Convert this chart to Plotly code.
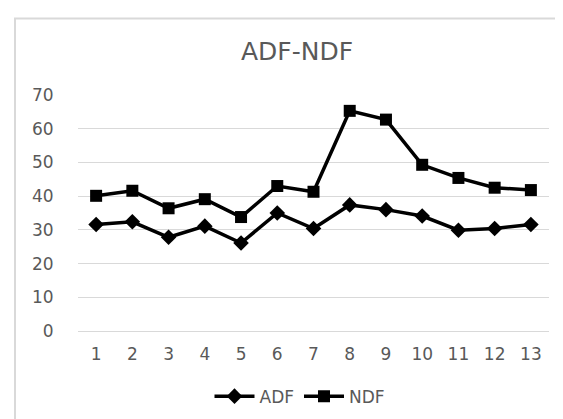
import plotly.graph_objects as go

categories = [1, 2, 3, 4, 5, 6, 7, 8, 9, 10, 11, 12, 13]
adf = [31.6, 32.4, 27.8, 31.1, 26.1, 35.0, 30.4, 37.4, 36.0, 34.1, 29.9, 30.4, 31.6]
ndf = [40.1, 41.6, 36.4, 39.1, 33.8, 43.0, 41.3, 65.3, 62.7, 49.3, 45.4, 42.5, 41.8]
y_ticks = [0, 10, 20, 30, 40, 50, 60, 70]

W, H = 563, 419
L, R, T, B = 70, 22, 87, 91
pw, ph = W - L - R, H - T - B

fig = go.Figure()
fig.add_trace(go.Scatter(x=categories, y=adf, name="ADF", mode="lines+markers",
                         line=dict(color="black", width=3.5),
                         marker=dict(symbol="diamond", size=12, color="black")))
fig.add_trace(go.Scatter(x=categories, y=ndf, name="NDF", mode="lines+markers",
                         line=dict(color="black", width=3.5),
                         marker=dict(symbol="square", size=12, color="black")))

fig.update_layout(
    width=W, height=H,
    margin=dict(l=L, r=R, t=T, b=B),
    paper_bgcolor="white", plot_bgcolor="white",
    font=dict(family="DejaVu Sans", color="#595959", size=17),
    title=dict(text="ADF-NDF", x=(289 - L) / pw, xref="paper", xanchor="center",
               y=1 - 43 / H, yref="container", yanchor="middle",
               font=dict(size=25, color="#595959", family="DejaVu Sans")),
    showlegend=True,
    legend=dict(orientation="h", x=(292 - L) / pw, xanchor="center",
                y=(H - 395 - B) / ph, yanchor="middle",
                font=dict(size=17, color="#595959"), itemwidth=40),
    xaxis=dict(range=[0.5, 13.5], tickmode="array", tickvals=categories,
               ticktext=[str(c) for c in categories], showgrid=False, zeroline=False,
               showline=False, ticks="outside", ticklen=8, tickcolor="rgba(0,0,0,0)"),
    yaxis=dict(range=[0, 70], tickmode="array", tickvals=y_ticks,
               showgrid=True, gridcolor="#d9d9d9", gridwidth=1,
               zeroline=True, zerolinecolor="#d9d9d9", zerolinewidth=1,
               showline=False, ticks="outside", ticklen=20, tickcolor="rgba(0,0,0,0)"),
    shapes=[dict(type="rect", xref="paper", yref="paper",
                 x0=(7 - L) / pw, x1=(W + 20 - L) / pw,
                 y0=(H - (H + 20) - B) / ph, y1=(H - 9 - B) / ph,
                 line=dict(color="#d9d9d9", width=2), fillcolor="rgba(0,0,0,0)",
                 layer="below")],
)

fig.write_html("out.html")
